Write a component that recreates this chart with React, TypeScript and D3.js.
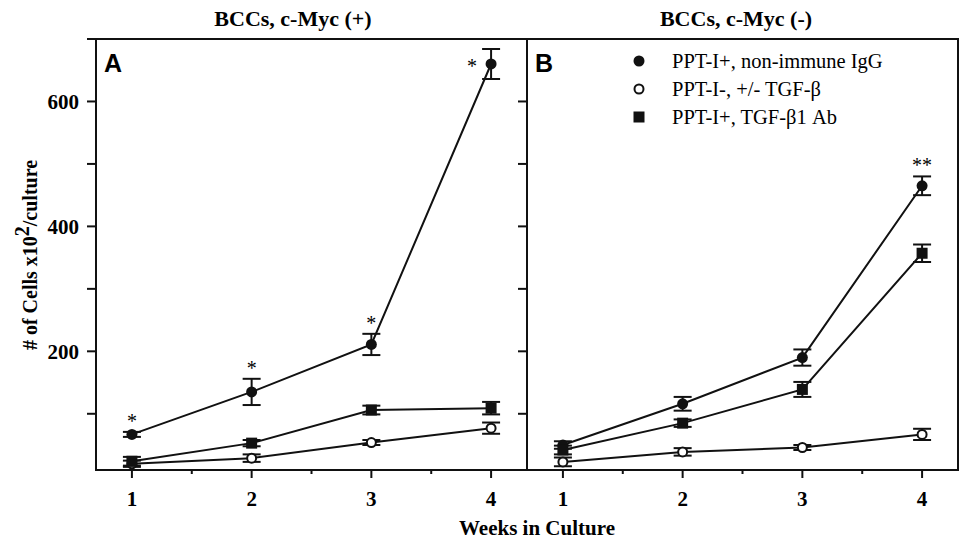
import { useEffect, useRef } from "react";
import * as d3 from "d3";

// weeks in culture
const weeks = [1, 2, 3, 4];

// panel A: BCCs, c-Myc (+)
const aIgG = [67, 135, 211, 660];
const aIgGErr = [4, 21, 17, 24];
const aNoPpt = [20, 29, 54, 77];
const aNoPptErr = [5, 6, 4, 9];
const aAb = [24, 53, 106, 109];
const aAbErr = [7, 5, 7, 10];
const aStars = ["*", "*", "*", "*"];

// panel B: BCCs, c-Myc (-)
const bIgG = [50, 116, 190, 465];
const bIgGErr = [6, 11, 13, 15];
const bNoPpt = [23, 39, 46, 67];
const bNoPptErr = [7, 6, 4, 9];
const bAb = [42, 85, 139, 357];
const bAbErr = [7, 6, 12, 14];
const bStars = ["", "", "", "**"];

const seriesNames = [
  "PPT-I+, non-immune IgG",
  "PPT-I-, +/- TGF-\u03b2",
  "PPT-I+, TGF-\u03b21 Ab",
];
const yTicks = [100, 200, 300, 400, 500, 600, 700];
const yLabelled = [200, 400, 600];
const xMinor = [1.5, 2.5, 3.5];

const W = 963;
const H = 540;
const serif = "'Liberation Serif', 'Times New Roman', serif";
const sans = "'Liberation Sans', Arial, sans-serif";
const ink = "#111";

export default function App() {
  const svgRef = useRef<SVGSVGElement>(null);

  useEffect(() => {
    const svg = d3.select(svgRef.current);
    svg.selectAll("*").remove();

    const top = 39;
    const bottom = 470;
    const y = d3.scaleLinear().domain([10, 700]).range([bottom, top]);

    const panels = [
      {
        x: d3.scaleLinear().domain([0.7, 4.3]).range([96, 527]),
        title: "BCCs, c-Myc (+)",
        titleX: 293,
        letter: "A",
        series: [
          { m: aIgG, e: aIgGErr, kind: "dot" },
          { m: aNoPpt, e: aNoPptErr, kind: "open" },
          { m: aAb, e: aAbErr, kind: "square" },
        ],
        stars: aStars,
      },
      {
        x: d3.scaleLinear().domain([0.7, 4.3]).range([527, 958]),
        title: "BCCs, c-Myc (-)",
        titleX: 736,
        letter: "B",
        series: [
          { m: bIgG, e: bIgGErr, kind: "dot" },
          { m: bNoPpt, e: bNoPptErr, kind: "open" },
          { m: bAb, e: bAbErr, kind: "square" },
        ],
        stars: bStars,
      },
    ];

    const drawMarker = (g, kind, cx, cy) => {
      if (kind === "square") {
        g.append("rect")
          .attr("x", cx - 5.5)
          .attr("y", cy - 5.5)
          .attr("width", 11)
          .attr("height", 11)
          .attr("fill", ink);
      } else {
        g.append("circle")
          .attr("cx", cx)
          .attr("cy", cy)
          .attr("r", kind === "open" ? 4.5 : 5.5)
          .attr("fill", kind === "open" ? "white" : ink)
          .attr("stroke", ink)
          .attr("stroke-width", kind === "open" ? 2 : 0);
      }
    };

    panels.forEach((p, pi) => {
      const x = p.x;
      const [x0, x1] = x.range();
      const g = svg.append("g");

      // title
      g.append("text")
        .attr("x", p.titleX)
        .attr("y", 26)
        .attr("text-anchor", "middle")
        .style("font-family", serif)
        .style("font-weight", "bold")
        .style("font-size", "22px")
        .text(p.title);

      // x ticks
      g.selectAll(".xmaj")
        .data(weeks)
        .enter()
        .append("line")
        .attr("x1", (d) => x(d))
        .attr("x2", (d) => x(d))
        .attr("y1", bottom)
        .attr("y2", bottom + 8)
        .attr("stroke", ink)
        .attr("stroke-width", 2);
      g.selectAll(".xmin")
        .data(xMinor)
        .enter()
        .append("line")
        .attr("x1", (d) => x(d))
        .attr("x2", (d) => x(d))
        .attr("y1", bottom)
        .attr("y2", bottom + 4)
        .attr("stroke", ink)
        .attr("stroke-width", 2);
      g.selectAll(".xlab")
        .data(weeks)
        .enter()
        .append("text")
        .attr("x", (d) => x(d))
        .attr("y", 506)
        .attr("text-anchor", "middle")
        .style("font-family", serif)
        .style("font-weight", "bold")
        .style("font-size", "21px")
        .text((d) => d);

      // y ticks: outward on panel A's left, inward on its right side
      if (pi === 0) {
        g.selectAll(".ytick")
          .data(yTicks)
          .enter()
          .append("line")
          .attr("x1", x0 - 9)
          .attr("x2", x0)
          .attr("y1", (d) => y(d))
          .attr("y2", (d) => y(d))
          .attr("stroke", ink)
          .attr("stroke-width", 2);
        g.selectAll(".ytickr")
          .data(yTicks)
          .enter()
          .append("line")
          .attr("x1", x1 - 9)
          .attr("x2", x1)
          .attr("y1", (d) => y(d))
          .attr("y2", (d) => y(d))
          .attr("stroke", ink)
          .attr("stroke-width", 2);
        g.selectAll(".ylab")
          .data(yLabelled)
          .enter()
          .append("text")
          .attr("x", 79)
          .attr("y", (d) => y(d))
          .attr("dy", "0.35em")
          .attr("text-anchor", "end")
          .style("font-family", serif)
          .style("font-weight", "bold")
          .style("font-size", "21px")
          .text((d) => d);
      }

      // frame
      g.append("rect")
        .attr("x", x0)
        .attr("y", top)
        .attr("width", x1 - x0)
        .attr("height", bottom - top)
        .attr("fill", "none")
        .attr("stroke", ink)
        .attr("stroke-width", 2);

      // panel letter
      g.append("text")
        .attr("x", x0 + 8)
        .attr("y", 72)
        .style("font-family", sans)
        .style("font-weight", "bold")
        .style("font-size", "25px")
        .text(p.letter);

      const line = d3
        .line<number>()
        .x((d, i) => x(weeks[i]))
        .y((d) => y(d));

      p.series.forEach((s) => {
        g.append("path")
          .datum(s.m)
          .attr("fill", "none")
          .attr("stroke", ink)
          .attr("stroke-width", 2)
          .attr("d", line);
      });

      p.series.forEach((s) => {
        s.m.forEach((v, i) => {
          const cx = x(weeks[i]);
          const yt = y(v + s.e[i]);
          const yb = y(v - s.e[i]);
          g.append("line")
            .attr("x1", cx)
            .attr("x2", cx)
            .attr("y1", yt)
            .attr("y2", yb)
            .attr("stroke", ink)
            .attr("stroke-width", 2);
          [yt, yb].forEach((yy) => {
            g.append("line")
              .attr("x1", cx - 9)
              .attr("x2", cx + 9)
              .attr("y1", yy)
              .attr("y2", yy)
              .attr("stroke", ink)
              .attr("stroke-width", 2);
          });
          drawMarker(g, s.kind, cx, y(v));
        });
      });

      // significance stars above the IgG series
      const igg = p.series[0];
      p.stars.forEach((st, i) => {
        if (!st) return;
        const cx = x(weeks[i]);
        const last = pi === 0 && i === weeks.length - 1;
        g.append("text")
          .attr("x", last ? cx - 14 : cx)
          .attr("y", last ? y(igg.m[i]) + 9 : y(igg.m[i] + igg.e[i]) - 4)
          .attr("text-anchor", last ? "end" : "middle")
          .style("font-family", serif)
          .style("font-size", "20px")
          .text(st);
      });

      // legend in panel B
      if (pi === 1) {
        seriesNames.forEach((name, i) => {
          const ly = 61 + i * 28;
          drawMarker(g, p.series[i].kind, 639, ly);
          g.append("text")
            .attr("x", 672)
            .attr("y", ly + 7)
            .style("font-family", serif)
            .style("font-size", "20.5px")
            .text(name);
        });
      }
    });

    // axis titles
    svg
      .append("text")
      .attr("x", 537)
      .attr("y", 535)
      .attr("text-anchor", "middle")
      .style("font-family", serif)
      .style("font-weight", "bold")
      .style("font-size", "21px")
      .text("Weeks in Culture");

    const yt = svg
      .append("text")
      .attr("transform", "translate(37,255) rotate(-90)")
      .attr("text-anchor", "middle")
      .style("font-family", serif)
      .style("font-weight", "bold")
      .style("font-size", "20px");
    yt.append("tspan").text("# of Cells x10");
    yt.append("tspan").attr("dy", -8).text("2");
    yt.append("tspan").attr("dy", 8).text("/culture");
  }, []);

  return (
    <svg
      ref={svgRef}
      width={W}
      height={H}
      style={{ position: "absolute", left: 0, top: 0, background: "white" }}
    />
  );
}
